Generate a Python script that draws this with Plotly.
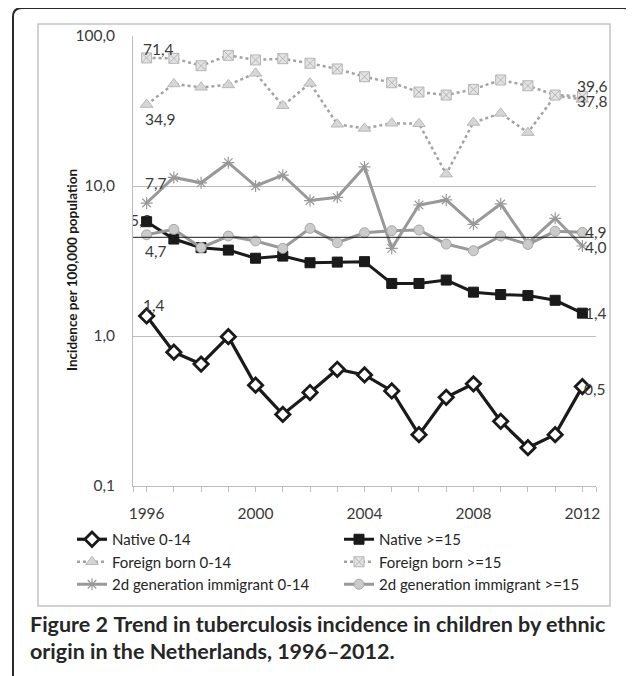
import math
import plotly.graph_objects as go

# ---------------- data ----------------
years = list(range(1996, 2013))
native_0_14 = [1.36, 0.78, 0.65, 0.99, 0.47, 0.30, 0.42, 0.60, 0.55, 0.43, 0.22, 0.39, 0.48, 0.27, 0.18, 0.22, 0.46]
native_15 = [5.78, 4.43, 3.88, 3.74, 3.30, 3.41, 3.08, 3.11, 3.13, 2.24, 2.24, 2.36, 1.96, 1.89, 1.86, 1.73, 1.42]
foreign_0_14 = [34.9, 47.9, 45.5, 47.2, 56.4, 34.3, 48.4, 25.8, 24.2, 26.2, 26.0, 12.0, 26.5, 30.5, 22.7, 40.0, 37.8]
foreign_15 = [71.4, 71.0, 63.4, 74.3, 69.2, 70.6, 65.8, 60.3, 53.5, 48.8, 42.3, 40.4, 44.1, 50.9, 46.6, 40.4, 39.6]
second_0_14 = [7.7, 11.4, 10.5, 14.3, 10.0, 11.8, 8.0, 8.4, 13.4, 3.84, 7.47, 8.07, 5.55, 7.59, 4.15, 6.09, 3.98]
second_15 = [4.73, 5.14, 3.88, 4.64, 4.30, 3.84, 5.22, 4.19, 4.88, 5.04, 5.09, 4.10, 3.70, 4.64, 4.08, 4.99, 4.91]
reference_level = 4.55

series_names = ["Native 0-14", "Native >=15", "Foreign born 0-14", "Foreign born >=15",
                "2d generation immigrant 0-14", "2d generation immigrant >=15"]
y_tick_vals = [0.1, 1, 10, 100]
y_tick_text = ["0,1", "1,0", "10,0", "100,0"]
x_label_years = [1996, 2000, 2004, 2008, 2012]

# ---------------- layout geometry ----------------
# page body has an 8px margin, so figure is drawn 8px in from the window corner
OFF = 8
W, H = 634 - OFF, 676 - OFF
L, R, T, B = 133 - OFF, 596 - OFF, 36 - OFF, 486 - OFF
PW, PH = R - L, B - T


def px(xs):  # window pixel -> paper x
    return (xs - OFF - L) / PW


def py(ys):  # window pixel -> paper y
    return (B - (ys - OFF)) / PH


FONT = "Lato"
TXT = "#3a3a3a"


def lab(v):
    return f"{v:.1f}".replace(".", ",")


fig = go.Figure()

# label drawn beneath the markers (partly hidden, like the reference)
fig.add_trace(go.Scatter(x=[years[0]], y=[native_15[0]], mode="text",
                         text=[lab(native_15[0]) + "\u00a0\u00a0\u00a0"],
                         textposition="middle center", showlegend=False, hoverinfo="skip",
                         textfont=dict(family=FONT, size=15.5, color=TXT)))

styles = [
    dict(line=dict(color="#1a1a1a", width=3.2),
         marker=dict(symbol="diamond", size=11, color="white", line=dict(color="#1a1a1a", width=2.8))),
    dict(line=dict(color="#1a1a1a", width=3),
         marker=dict(symbol="square", size=10, color="#1a1a1a", line=dict(color="#1a1a1a", width=1))),
    dict(line=dict(color="#a3a3a3", width=2.5, dash="dot"),
         marker=dict(symbol="triangle-up", size=11, color="#d6d6d6", line=dict(color="#b8b8b8", width=1))),
    dict(line=dict(color="#a3a3a3", width=2.5, dash="dot"),
         marker=dict(symbol="square-x", size=10, color="#e3e3e3", line=dict(color="#b5b5b5", width=1))),
    dict(line=dict(color="#999999", width=3),
         marker=dict(symbol="asterisk-open", size=10, color="#999999", line=dict(color="#999999", width=1.2))),
    dict(line=dict(color="#999999", width=3),
         marker=dict(symbol="circle", size=10, color="#cbcbcb", line=dict(color="#a8a8a8", width=1))),
]
data = [native_0_14, native_15, foreign_0_14, foreign_15, second_0_14, second_15]
for name, vals, st in zip(series_names, data, styles):
    fig.add_trace(go.Scatter(x=years, y=vals, mode="lines+markers", name=name,
                             line=st["line"], marker=st["marker"]))

# horizontal black reference line
fig.add_shape(type="line", xref="paper", yref="y", x0=0, x1=0.995,
              y0=reference_level, y1=reference_level, line=dict(color="#1a1a1a", width=1))

# data label annotations (first / last points); log axis -> annotation y in log10 units
labels = [
    (years[0], foreign_15[0], 12, 9),
    (years[0], foreign_0_14[0], 14, -14),
    (years[0], second_0_14[0], 9, 20),
    (years[0], second_15[0], 9, -16),
    (years[0], native_0_14[0], 7, 11),
    (years[-1], foreign_15[-1], 10, 10),
    (years[-1], foreign_0_14[-1], 10, -2),
    (years[-1], second_15[-1], 14, 0),
    (years[-1], second_0_14[-1], 14, -1),
    (years[-1], native_15[-1], 14, 0),
    (years[-1], native_0_14[-1], 13, -2),
]
for x, v, dx, dy in labels:
    fig.add_annotation(x=x, y=math.log10(v), yref="y", xref="x", text=lab(v), showarrow=False,
                       xshift=dx, yshift=dy, xanchor="center", yanchor="middle",
                       font=dict(family=FONT, size=15.5, color=TXT))

# y axis title
fig.add_annotation(xref="paper", yref="paper", x=px(72), y=py(270),
                   text="<b>Incidence per 100,000 population</b>",
                   textangle=-90, showarrow=False, xanchor="center", yanchor="middle",
                   font=dict(family=FONT, size=13.5, color="#1a1a1a"))

# caption
fig.add_annotation(xref="paper", yref="paper", x=px(28), y=py(624), xanchor="left", yanchor="middle",
                   text="<b>Figure 2</b> <b>Trend in tuberculosis incidence in children by ethnic</b>",
                   showarrow=False, font=dict(family=FONT, size=21.5, color="#262626"))
fig.add_annotation(xref="paper", yref="paper", x=px(28), y=py(651), xanchor="left", yanchor="middle",
                   text="<b>origin in the Netherlands, 1996–2012.</b>",
                   showarrow=False, font=dict(family=FONT, size=21.5, color="#262626"))

# inner chart box
fig.add_shape(type="rect", xref="paper", yref="paper", x0=px(38), x1=px(610), y0=py(606), y1=py(24),
              line=dict(color="#c4c4c4", width=1.5), layer="below")
# outer rounded frame (open at bottom)
r = 9
fl, ft, fr, fb = 13, 8, 632, 690
path = (f"M {px(fl)},{py(fb)} L {px(fl)},{py(ft + r)} Q {px(fl)},{py(ft)} {px(fl + r)},{py(ft)} "
        f"L {px(fr - r)},{py(ft)} Q {px(fr)},{py(ft)} {px(fr)},{py(ft + r)} L {px(fr)},{py(fb)}")
fig.add_shape(type="path", xref="paper", yref="paper", path=path, line=dict(color="#2a2a2a", width=2))

xticks = [1995.5] + years + [2012.5]
fig.update_layout(
    width=W, height=H,
    margin=dict(l=L, r=W - R, t=T, b=H - B),
    paper_bgcolor="white", plot_bgcolor="white",
    font=dict(family=FONT, size=15.5, color=TXT),
    showlegend=True,
    legend=dict(orientation="h", x=px(72), y=py(523), xanchor="left", yanchor="top",
                entrywidth=222, entrywidthmode="pixels",
                font=dict(family=FONT, size=15, color="#262626"),
                bgcolor="rgba(0,0,0,0)", traceorder="normal", itemclick=False),
    xaxis=dict(range=[1995.5, 2012.5], tickmode="array", tickvals=xticks,
               ticktext=[str(t) if t in x_label_years else "" for t in xticks],
               ticks="outside", ticklen=5, tickcolor="#bdbdbd", showgrid=False, showline=True,
               linecolor="#bdbdbd", linewidth=1, zeroline=False, ticklabelstandoff=8,
               tickfont=dict(family=FONT, size=15.5, color=TXT)),
    yaxis=dict(type="log", range=[-1, 2], tickmode="array", tickvals=y_tick_vals, ticktext=y_tick_text,
               showgrid=True, gridcolor="#bdbdbd", gridwidth=1, showline=True, linecolor="#bdbdbd",
               linewidth=1, ticks="", zeroline=False, ticklabelstandoff=14,
               tickfont=dict(family=FONT, size=15.5, color=TXT)),
)

fig.write_html("out.html")
